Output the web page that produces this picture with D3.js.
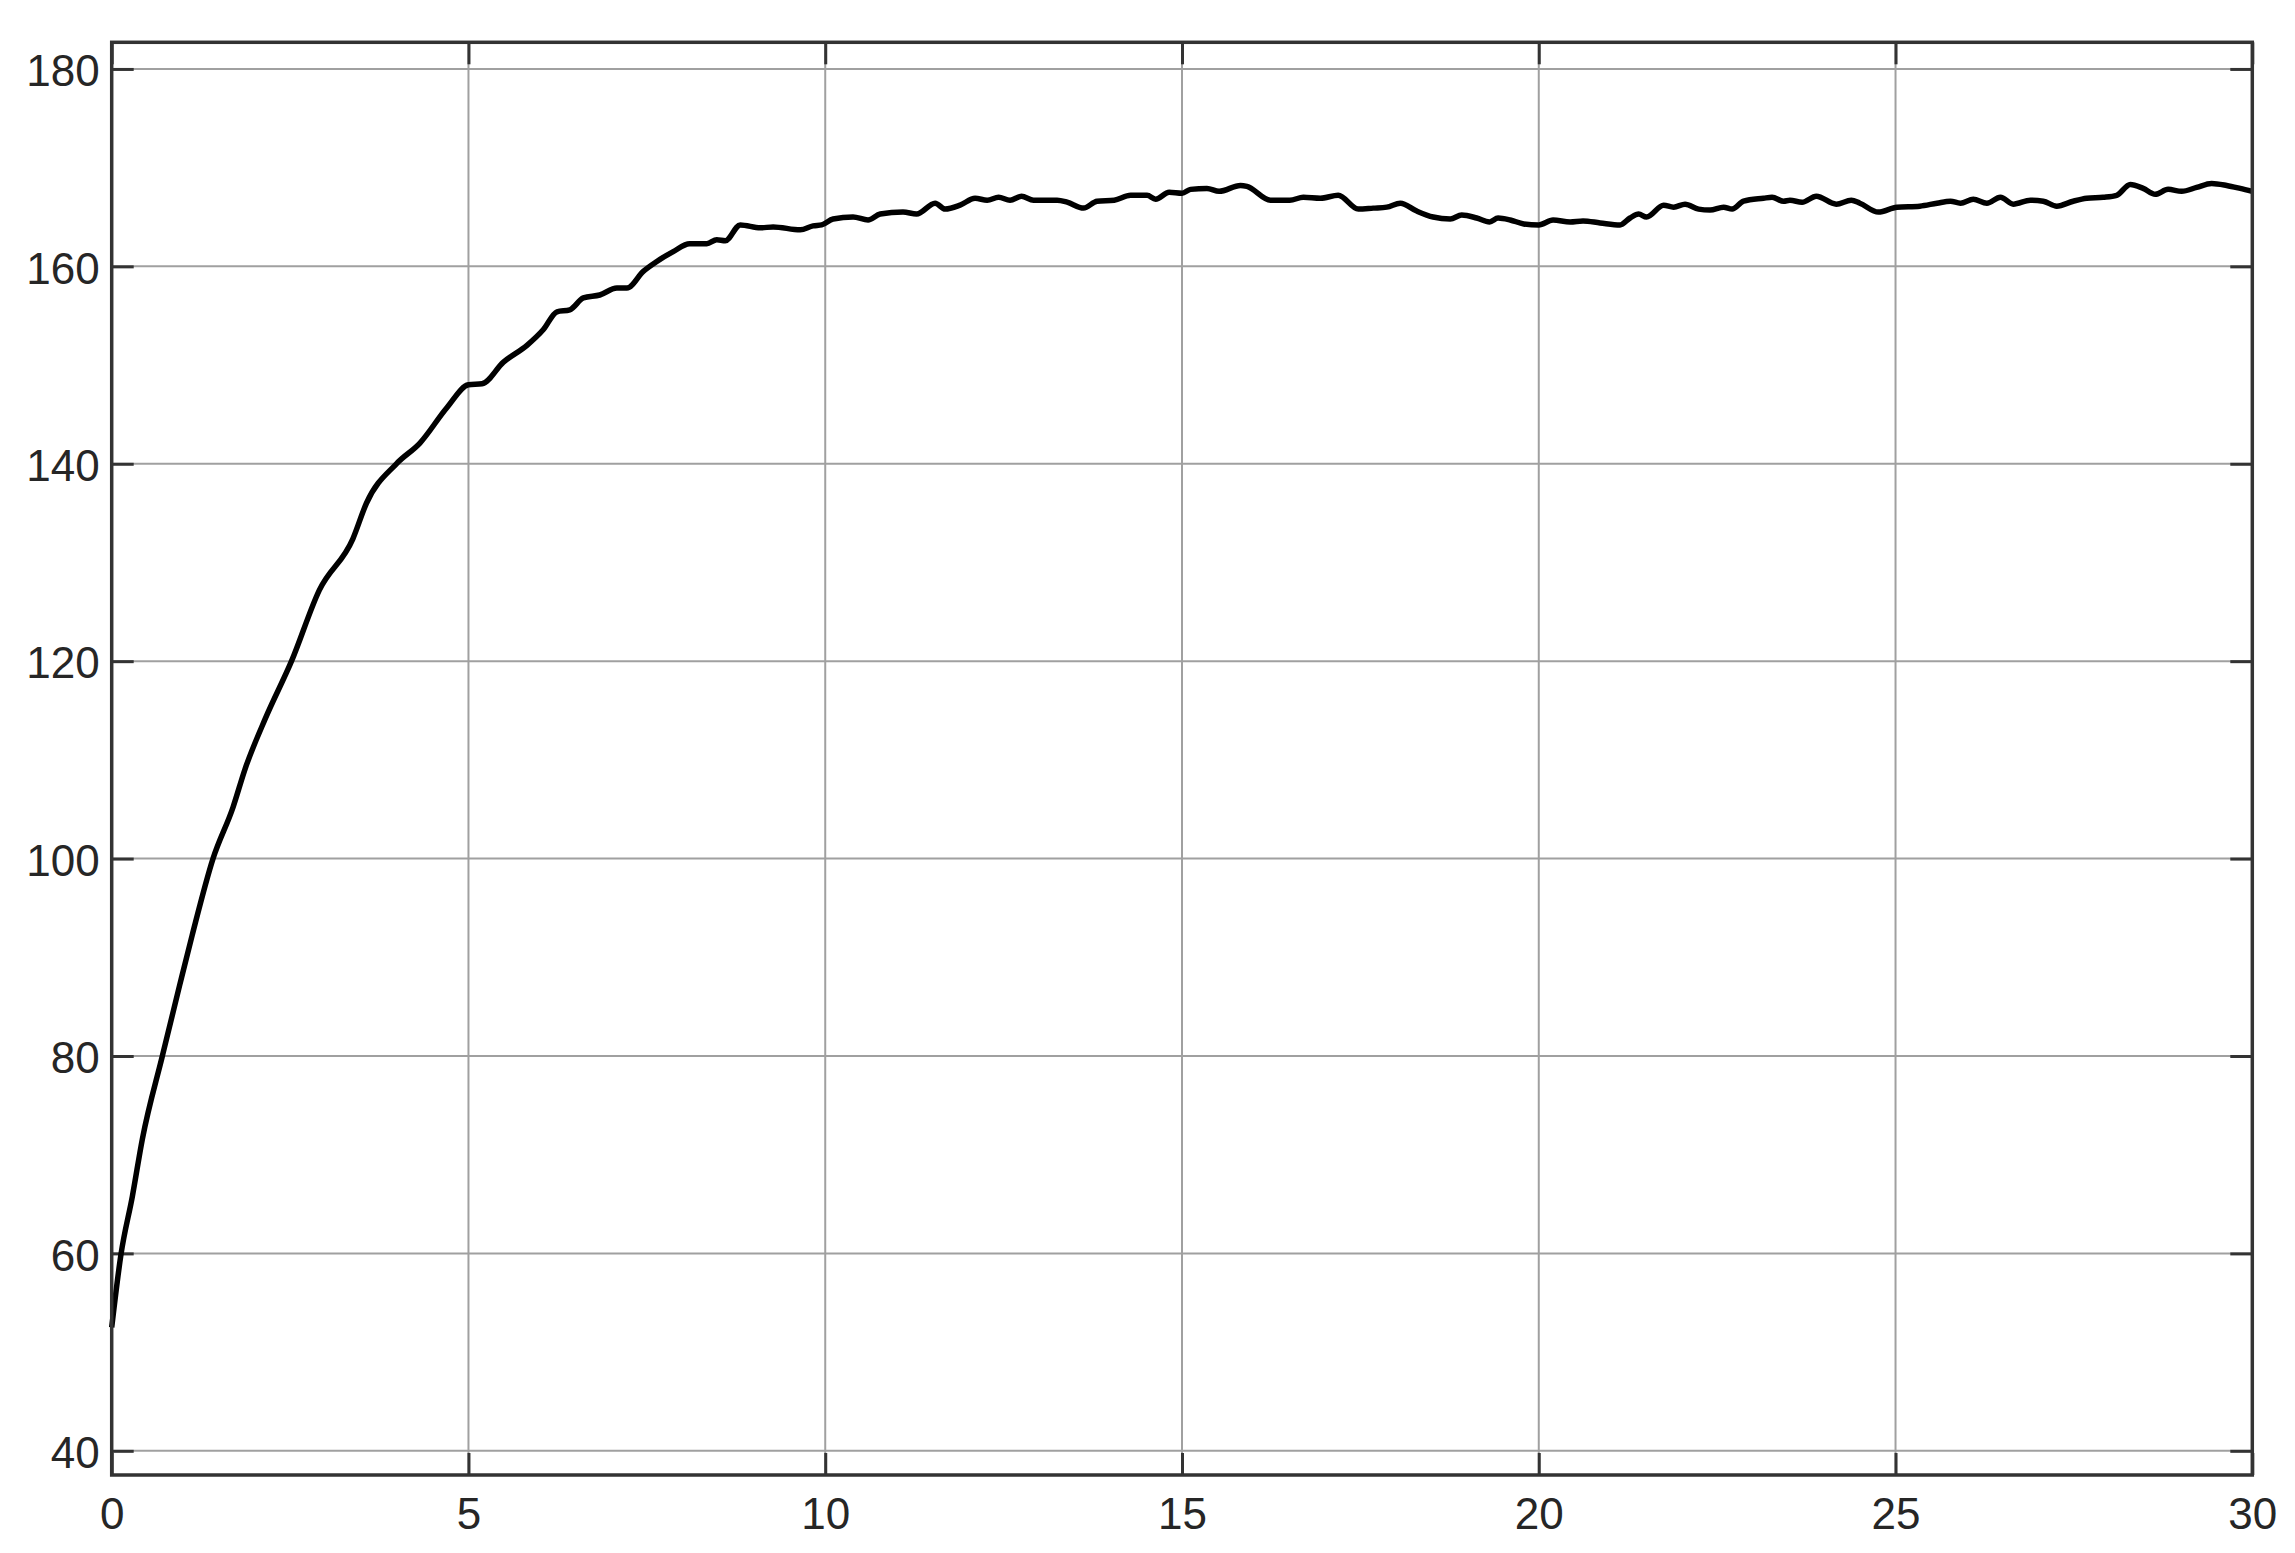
<!DOCTYPE html>
<html>
<head>
<meta charset="utf-8">
<script src="https://cdn.jsdelivr.net/npm/d3@7"></script>
<style>
  body { margin: 0; background: #fff; }
  svg { display: block; }
  .tick text { font-family: "Liberation Sans", Arial, sans-serif; font-size: 44px; fill: #262626; }
</style>
</head>
<body>
<div id="chart"></div>
<script>
// data (time, value)
const timeRise = [0, 0.13, 0.29, 0.43, 0.71, 0.95, 1.13, 1.42, 1.70, 1.87, 2.16, 2.52, 2.91, 3.38, 3.57, 3.99, 4.32, 4.70];
const valueRise = [52.5, 59.9, 65.8, 71.6, 80.0, 87.1, 92.3, 100.0, 105.2, 109.1, 114.3, 120.0, 127.2, 132.4, 136.0, 140.0, 142.1, 145.7];

const timeKnee = [5.00, 5.19, 5.49, 5.82, 6.05, 6.24, 6.42, 6.61, 6.84, 7.08, 7.22, 7.45, 7.64, 7.87, 8.10, 8.34, 8.48, 8.60, 8.81, 9.09, 9.27, 9.65, 9.83, 9.95];
const valueKnee = [148.0, 148.1, 150.3, 152.0, 153.6, 155.4, 155.6, 156.8, 157.1, 157.8, 157.8, 159.5, 160.5, 161.5, 162.3, 162.3, 162.7, 162.6, 164.2, 163.9, 164.0, 163.7, 164.1, 164.2];

const timePlateau1 = [10.11, 10.39, 10.60, 10.77, 11.09, 11.28, 11.54, 11.68, 11.89, 12.10, 12.27, 12.43, 12.59, 12.75, 12.92, 13.25, 13.39, 13.62, 13.81, 14.05, 14.28, 14.51, 14.63, 14.82, 15.00, 15.12, 15.35, 15.52, 15.82, 15.91, 16.24];
const valuePlateau1 = [164.8, 165.0, 164.7, 165.3, 165.5, 165.3, 166.4, 165.8, 166.2, 166.9, 166.7, 167.0, 166.7, 167.1, 166.7, 166.7, 166.5, 165.9, 166.6, 166.7, 167.2, 167.2, 166.8, 167.5, 167.4, 167.8, 167.9, 167.6, 168.2, 168.1, 166.7];

const timePlateau2 = [16.51, 16.70, 16.94, 17.19, 17.47, 17.68, 17.87, 18.06, 18.29, 18.52, 18.76, 18.92, 19.13, 19.31, 19.43, 19.60, 19.79, 20.00, 20.20, 20.44, 20.62, 20.86, 21.14, 21.28, 21.40, 21.51, 21.75, 21.89, 22.05, 22.24, 22.40, 22.59, 22.71, 22.87, 23.15];
const valuePlateau2 = [166.7, 167.0, 166.9, 167.2, 165.8, 165.9, 166.0, 166.4, 165.6, 165.0, 164.8, 165.2, 164.9, 164.5, 164.9, 164.7, 164.3, 164.2, 164.7, 164.5, 164.6, 164.4, 164.2, 164.9, 165.3, 165.0, 166.2, 166.0, 166.3, 165.8, 165.7, 166.0, 165.8, 166.6, 166.9];

const timePlateau3 = [23.27, 23.43, 23.52, 23.69, 23.89, 24.17, 24.38, 24.50, 24.76, 25.02, 25.34, 25.58, 25.77, 25.91, 26.09, 26.28, 26.47, 26.65, 26.89, 27.07, 27.26, 27.49, 27.68, 27.91, 28.10, 28.29, 28.47, 28.64, 28.82, 29.01, 29.22, 29.43, 29.64, 29.83, 30.00];
const valuePlateau3 = [167.0, 166.6, 166.7, 166.5, 167.1, 166.3, 166.7, 166.4, 165.5, 166.0, 166.1, 166.4, 166.6, 166.4, 166.8, 166.4, 167.0, 166.3, 166.7, 166.6, 166.1, 166.6, 166.9, 167.0, 167.2, 168.3, 167.9, 167.3, 167.8, 167.6, 168.0, 168.4, 168.2, 167.9, 167.6];

const xTicks = [0, 5, 10, 15, 20, 25, 30];
const yTicks = [40, 60, 80, 100, 120, 140, 160, 180];

const times = [].concat(timeRise, timeKnee, timePlateau1, timePlateau2, timePlateau3);
const values = [].concat(valueRise, valueKnee, valuePlateau1, valuePlateau2, valuePlateau3);
const points = times.map((t, i) => [t, values[i]]);

const width = 2295;
const height = 1553;
const plot = { left: 111.7, right: 2252.3, top: 42.3, bottom: 1475 };

const x = d3.scaleLinear().domain([0, 30]).range([plot.left, plot.right]);
const y = d3.scaleLinear().domain([37.55, 182.7]).range([plot.bottom, plot.top]);

const svg = d3.select('#chart')
  .append('svg')
  .attr('width', width)
  .attr('height', height);

// grid
const grid = svg.append('g').attr('stroke', '#a0a0a0').attr('stroke-width', 2);
grid.selectAll('.vgrid')
  .data(xTicks.slice(1, -1))
  .join('line')
  .attr('x1', d => x(d)).attr('x2', d => x(d))
  .attr('y1', plot.top).attr('y2', plot.bottom);
grid.selectAll('.hgrid')
  .data(yTicks)
  .join('line')
  .attr('x1', plot.left).attr('x2', plot.right)
  .attr('y1', d => y(d)).attr('y2', d => y(d));

// axes with inward ticks
const tickLen = 22;
function styleAxis(g) {
  g.select('.domain').remove();
  g.selectAll('.tick line').attr('stroke', '#333').attr('stroke-width', 3);
}

svg.append('g')
  .attr('transform', `translate(0,${plot.bottom})`)
  .call(d3.axisBottom(x).tickValues(xTicks).tickSize(-tickLen).tickPadding(23).tickFormat(d3.format('d')))
  .call(styleAxis);

svg.append('g')
  .attr('transform', `translate(0,${plot.top})`)
  .call(d3.axisTop(x).tickValues(xTicks).tickSize(-tickLen).tickFormat(''))
  .call(styleAxis);

svg.append('g')
  .attr('transform', `translate(${plot.left},0)`)
  .call(d3.axisLeft(y).tickValues(yTicks).tickSize(-tickLen).tickPadding(12).tickFormat(d3.format('d')))
  .call(styleAxis)
  .call(g => g.selectAll('.tick text').attr('dy', '0.38em'));

svg.append('g')
  .attr('transform', `translate(${plot.right},0)`)
  .call(d3.axisRight(y).tickValues(yTicks).tickSize(-tickLen).tickFormat(''))
  .call(styleAxis);

// the curve
const line = d3.line()
  .curve(d3.curveMonotoneX)
  .x(d => x(d[0]))
  .y(d => y(d[1]));

svg.append('path')
  .datum(points)
  .attr('fill', 'none')
  .attr('stroke', '#000')
  .attr('stroke-width', 5.5)
  .attr('stroke-linejoin', 'round')
  .attr('d', line);

// frame
svg.append('rect')
  .attr('x', plot.left).attr('y', plot.top)
  .attr('width', plot.right - plot.left).attr('height', plot.bottom - plot.top)
  .attr('fill', 'none')
  .attr('stroke', '#333')
  .attr('stroke-width', 3.5);
</script>
</body>
</html>
